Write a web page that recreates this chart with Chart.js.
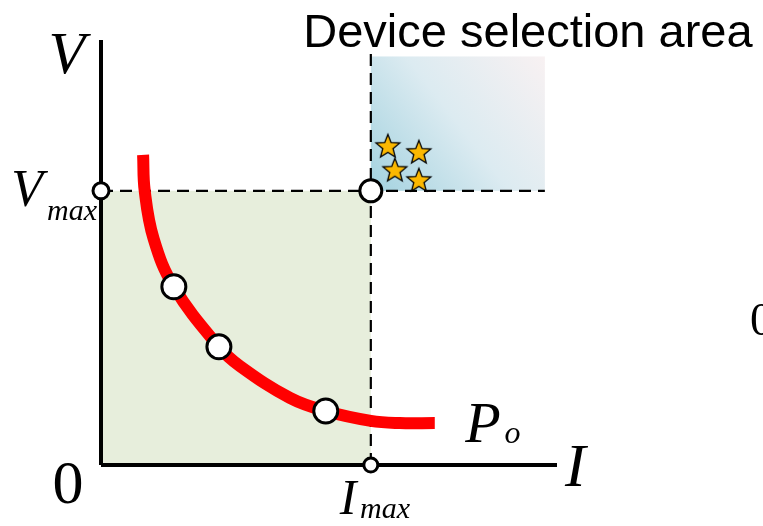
<!DOCTYPE html>
<html>
<head>
<meta charset="utf-8">
<script src="https://cdn.jsdelivr.net/npm/chart.js@4/dist/chart.umd.min.js"></script>
<style>
  html, body { margin: 0; padding: 0; background: #fff; }
  #wrap { width: 763px; height: 526px; position: relative; }
</style>
</head>
<body>
<div id="wrap"><canvas id="pv"></canvas></div>
<script>
// limits (Imax = Vmax = 10 units)
const iMax = 10;
const vMax = 10;
const iAxisEnd = 16.9;
const vAxisEnd = 15.5;

// constant power curve Po
const curveI = [1.56, 1.62, 1.95, 2.70, 4.37, 5.15, 7.0, 8.33, 10.0, 11.07, 12.37];
const curveV = [11.31, 10.0, 8.25, 6.50, 4.31, 3.61, 2.45, 1.97, 1.61, 1.53, 1.53];

// open circles
const markI = [0, 10, 10, 2.70, 4.37, 8.33];
const markV = [10, 10, 0, 6.50, 4.31, 1.97];
const markR = [8, 11, 7, 12, 12, 12];

// candidate devices (stars)
const starI = [10.63, 11.78, 10.89, 11.78];
const starV = [11.64, 11.42, 10.77, 10.40];

// selection area corner
const areaI = 16.45;
const areaV = 14.9;

const serif = '"Liberation Serif", "DejaVu Serif", serif';

function pts(xs, ys) { return xs.map((x, i) => ({ x: x, y: ys[i] })); }

// five point star for pointStyle
function starImage() {
    const c = document.createElement('canvas');
    c.width = 28; c.height = 28;
    const g = c.getContext('2d');
    g.beginPath();
    for (let k = 0; k < 10; k++) {
        const r = k % 2 === 0 ? 12.5 : 5.4;
        const a = -Math.PI / 2 + k * Math.PI / 5;
        const px = 14 + r * Math.cos(a), py = 15 + r * Math.sin(a);
        if (k === 0) g.moveTo(px, py); else g.lineTo(px, py);
    }
    g.closePath();
    g.fillStyle = '#fbb800';
    g.fill();
    g.lineWidth = 1.3;
    g.strokeStyle = '#000';
    g.stroke();
    return c;
}

const areas = {
    id: 'areas',
    beforeDatasetsDraw(chart) {
        const { ctx, scales: { x, y } } = chart;
        ctx.save();
        // feasible region
        ctx.fillStyle = '#e7eedc';
        ctx.fillRect(x.getPixelForValue(0), y.getPixelForValue(vMax),
            x.getPixelForValue(iMax) - x.getPixelForValue(0),
            y.getPixelForValue(0) - y.getPixelForValue(vMax));
        // device selection area
        const x0 = x.getPixelForValue(iMax), y0 = y.getPixelForValue(vMax);
        const x1 = x.getPixelForValue(areaI), y1 = y.getPixelForValue(areaV);
        const grad = ctx.createLinearGradient(x0, y0, x1, y1);
        grad.addColorStop(0, '#a3d2df');
        grad.addColorStop(0.5, '#dcebf1');
        grad.addColorStop(1, '#f8f1f2');
        ctx.fillStyle = grad;
        ctx.fillRect(x0, y1, x1 - x0, y0 - y1);
        ctx.restore();
    }
};

const texts = {
    id: 'texts',
    afterDatasetsDraw(chart) {
        const { ctx, scales: { x, y } } = chart;
        const put = (str, i, v, font, align) => {
            ctx.font = font;
            ctx.textAlign = align || 'left';
            ctx.textBaseline = 'alphabetic';
            ctx.fillText(str, x.getPixelForValue(i), y.getPixelForValue(v));
        };
        ctx.save();
        ctx.fillStyle = '#000';
        put('V', -1.95, 14.3, 'italic 60px ' + serif);
        put('V', -3.33, 9.45, 'italic 52px ' + serif);
        put('max', -2.0, 8.95, 'italic 30px ' + serif);
        put('0', -1.8, -1.4, '62px ' + serif);
        put('I', 8.85, -1.8, 'italic 50px ' + serif);
        put('max', 9.6, -1.95, 'italic 30px ' + serif);
        put('I', 17.2, -0.75, 'italic 62px ' + serif);
        put('P', 13.5, 0.85, 'italic 58px ' + serif);
        put('o', 14.95, 0.82, 'italic 32px ' + serif);
        put('0', 24.05, 4.75, '46px ' + serif);
        put('Device selection area', 24.15, 15.25, '47px "Liberation Sans", Arial, sans-serif', 'right');
        ctx.restore();
    }
};

new Chart(document.getElementById('pv'), {
    type: 'scatter',
    data: {
        datasets: [
            {
                label: 'stars',
                data: pts(starI, starV),
                pointStyle: starImage(),
                pointRadius: 13,
                order: 0,
                clip: false
            },
            {
                label: 'points',
                data: pts(markI, markV),
                pointRadius: markR,
                pointBackgroundColor: '#fff',
                pointBorderColor: '#000',
                pointBorderWidth: 3,
                order: 1,
                clip: false
            },
            {
                label: 'Po',
                data: pts(curveI, curveV),
                showLine: true,
                borderColor: '#ff0000',
                borderWidth: 12,
                tension: 0.4,
                pointRadius: 0,
                order: 2,
                clip: false
            },
            {
                label: 'I axis',
                data: [{ x: 0, y: 0 }, { x: iAxisEnd, y: 0 }],
                showLine: true,
                borderColor: '#000',
                borderWidth: 4,
                pointRadius: 0,
                order: 3,
                clip: false
            },
            {
                label: 'V axis',
                data: [{ x: 0, y: 0 }, { x: 0, y: vAxisEnd }],
                showLine: true,
                borderColor: '#000',
                borderWidth: 4,
                pointRadius: 0,
                order: 3,
                clip: false
            },
            {
                label: 'Imax line',
                data: [{ x: iMax, y: 0 }, { x: iMax, y: 15.07 }],
                showLine: true,
                borderColor: '#000',
                borderWidth: 2.2,
                borderDash: [12, 7],
                pointRadius: 0,
                order: 4,
                clip: false
            },
            {
                label: 'Vmax line',
                data: [{ x: 0, y: vMax }, { x: areaI, y: vMax }],
                showLine: true,
                borderColor: '#000',
                borderWidth: 2.2,
                borderDash: [12, 7],
                pointRadius: 0,
                order: 4,
                clip: false
            }
        ]
    },
    options: {
        responsive: true,
        maintainAspectRatio: false,
        animation: false,
        layout: { padding: { left: 101, top: 40, right: 206, bottom: 61 } },
        plugins: {
            legend: { display: false },
            tooltip: { enabled: false },
            title: { display: false }
        },
        scales: {
            x: { type: 'linear', min: 0, max: iAxisEnd, display: false },
            y: { type: 'linear', min: 0, max: vAxisEnd, display: false }
        }
    },
    plugins: [areas, texts]
});
</script>
</body>
</html>
